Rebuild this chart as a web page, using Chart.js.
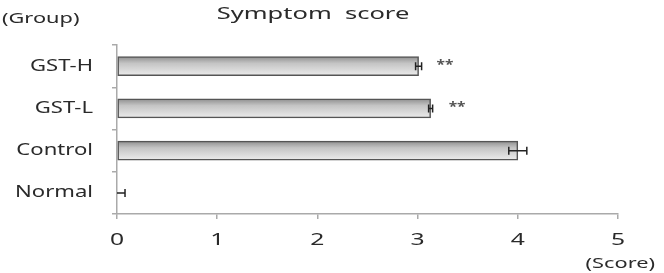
<!DOCTYPE html>
<html>
<head>
<meta charset="utf-8">
<script src="https://cdn.jsdelivr.net/npm/chart.js@4.4.1/dist/chart.umd.min.js"></script>
<style>
  html, body { margin: 0; padding: 0; background: #fff; }
  #wrap { width: 664px; height: 273px; }
</style>
</head>
<body>
<div id="wrap"><canvas id="chart"></canvas></div>
<script>
// Symptom score by group (mean ± SE)
const groups = ['GST-H', 'GST-L', 'Control', 'Normal'];
const scores = [3.01, 3.13, 4.0, 0];
const errors = [0.03, 0.02, 0.09, 0.08];
const marks = ['**', '**', '', ''];
const xTicks = [0, 1, 2, 3, 4, 5];

const FONT = "'Noto Sans', sans-serif";
const BAR_H = 19;
const STRETCH = 1.45; // source text is wide, stretch glyphs horizontally

// Vertical gray gradient per bar
function barFill(context) {
    const chart = context.chart;
    const yScale = chart.scales.y;
    if (!yScale || yScale.top === undefined) return '#cccccc';
    const yc = yScale.getPixelForValue(context.dataIndex);
    const g = chart.ctx.createLinearGradient(0, yc - BAR_H / 2, 0, yc + BAR_H / 2);
    g.addColorStop(0, '#8f8f8f');
    g.addColorStop(0.35, '#c4c4c4');
    g.addColorStop(1, '#ececec');
    return g;
}

function wideText(ctx, text, x, y, align, font, sx) {
    ctx.save();
    ctx.translate(x, y);
    ctx.scale(sx || STRETCH, 1);
    ctx.font = font;
    ctx.textAlign = align;
    ctx.fillText(text, 0, 0);
    ctx.restore();
}

// Error bars, significance marks, axis labels and free texts
const extrasPlugin = {
    id: 'extras',
    afterDatasetsDraw(chart) {
        const { ctx, scales: { x, y } } = chart;
        ctx.save();
        ctx.strokeStyle = '#222';
        ctx.lineWidth = 1.5;
        scores.forEach((v, i) => {
            const yc = y.getPixelForValue(i);
            const x1 = x.getPixelForValue(v - errors[i]);
            const x2 = x.getPixelForValue(v + errors[i]);
            const x0 = x.getPixelForValue(Math.max(0, v - errors[i]));
            ctx.beginPath();
            ctx.moveTo(x0, yc);
            ctx.lineTo(x2, yc);
            ctx.moveTo(x2, yc - 4);
            ctx.lineTo(x2, yc + 4);
            if (v - errors[i] >= 0) {
                ctx.moveTo(x1, yc - 4);
                ctx.lineTo(x1, yc + 4);
            }
            ctx.stroke();
            if (marks[i]) {
                ctx.fillStyle = '#555';
                ctx.textBaseline = 'middle';
                wideText(ctx, marks[i], x.getPixelForValue(v) + 18, yc - 1, 'left', 'bold 12px ' + FONT, 1.3);
            }
        });

        ctx.fillStyle = '#2a2a2a';
        ctx.textBaseline = 'middle';
        groups.forEach((g, i) => {
            wideText(ctx, g, 93, y.getPixelForValue(i), 'right', '16px ' + FONT, 1.38);
        });
        ctx.textBaseline = 'alphabetic';
        xTicks.forEach(v => {
            wideText(ctx, String(v), x.getPixelForValue(v), 245, 'center', '17px ' + FONT);
        });

        ctx.textBaseline = 'alphabetic';
        wideText(ctx, 'Symptom  score', 313, 19, 'center', '17px ' + FONT, 1.5);
        wideText(ctx, '(Group)', 2, 23, 'left', '15px ' + FONT);
        wideText(ctx, '(Score)', 655, 268, 'right', '15px ' + FONT);
        ctx.restore();
    }
};

new Chart(document.getElementById('chart'), {
    type: 'bar',
    data: {
        labels: groups,
        datasets: [{
            data: scores,
            backgroundColor: barFill,
            borderColor: '#555',
            borderWidth: 1.5,
            borderSkipped: false,
            barThickness: BAR_H
        }]
    },
    options: {
        indexAxis: 'y',
        responsive: true,
        maintainAspectRatio: false,
        animation: false,
        layout: { padding: { left: 0, right: 46, top: 45, bottom: 0 } },
        plugins: {
            legend: { display: false },
            tooltip: { enabled: false }
        },
        scales: {
            x: {
                min: 0,
                max: 5,
                afterBuildTicks: (scale) => { scale.ticks = xTicks.map(v => ({ value: v })); },
                afterFit: (scale) => { scale.height = 59; },
                border: { color: '#aaa', width: 1.5 },
                grid: { drawOnChartArea: false, drawTicks: true, tickLength: 5, color: '#aaa', lineWidth: 1.5 },
                ticks: { display: false }
            },
            y: {
                afterFit: (scale) => { scale.width = 117; },
                border: { color: '#aaa', width: 1.5 },
                grid: { offset: true, drawOnChartArea: false, drawTicks: true, tickLength: 5, color: '#aaa', lineWidth: 1.5 },
                ticks: { display: false }
            }
        }
    },
    plugins: [extrasPlugin]
});
</script>
</body>
</html>
